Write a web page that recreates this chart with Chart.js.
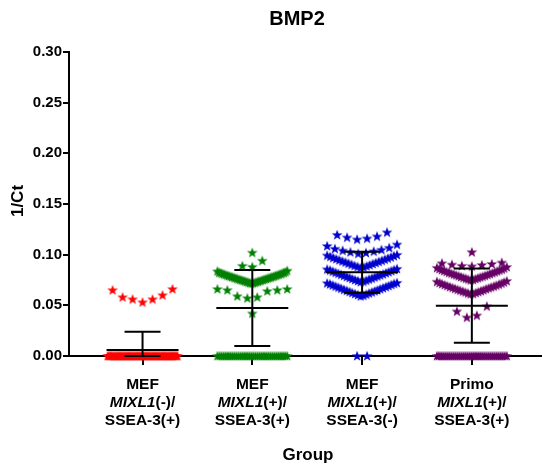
<!DOCTYPE html>
<html>
<head>
<meta charset="UTF-8" />
<title>BMP2</title>
<style>
  body { margin: 0; background: #fff; }
  canvas#chartId { display: block; }
</style>
</head>
<body>
<canvas id="chartId" width="542" height="468"></canvas>
<script src="https://cdn.jsdelivr.net/npm/chart.js@4"></script>
<script>
// ---- data (1/Ct per sample) ----
const catTop = ['MEF', 'MEF', 'MEF', 'Primo'];
const catGene = ['MIXL1', 'MIXL1', 'MIXL1', 'MIXL1'];
const catState = ['(-)/', '(+)/', '(+)/', '(+)/'];
const catBottom = ['SSEA-3(+)', 'SSEA-3(+)', 'SSEA-3(-)', 'SSEA-3(+)'];
const colors = ['#ff0000', '#008000', '#0000cc', '#660066'];

// samples sitting at 0 (no signal), per group
const zeroCounts = [63, 34, 2, 35];

const mefNegPos = [0.053, 0.056, 0.056, 0.058, 0.060, 0.065, 0.066];

const mefPosPos = [0.042,
  0.057, 0.058, 0.059, 0.064, 0.065, 0.065, 0.066, 0.066,
  0.0716, 0.0719, 0.0721, 0.0724, 0.0726, 0.0729, 0.0731, 0.0734, 0.0737, 0.0739, 0.0742,
  0.0744, 0.0747, 0.0750, 0.0752, 0.0755, 0.0757, 0.0760, 0.0763, 0.0766, 0.0768, 0.0771,
  0.0774, 0.0776, 0.0779, 0.0782, 0.0784, 0.0787, 0.0790, 0.0793, 0.0795, 0.0798, 0.0801,
  0.0804, 0.0807, 0.0809, 0.0812, 0.0815, 0.0818, 0.0821, 0.0824, 0.0828, 0.0836, 0.0842,
  0.088, 0.089, 0.094, 0.102];

const mefPosNeg = [
  0.0590, 0.0596, 0.0603, 0.0608, 0.0613, 0.0619, 0.0623, 0.0629, 0.0634, 0.0640, 0.0645, 0.0650, 0.0655,
  0.0661, 0.0666, 0.0671, 0.0676, 0.0682, 0.0687, 0.0692, 0.0698, 0.0703, 0.0709, 0.0714, 0.0718, 0.0722,
  0.0730, 0.0735, 0.0741, 0.0745, 0.0750, 0.0756, 0.0760, 0.0765, 0.0771, 0.0776, 0.0781, 0.0786, 0.0792,
  0.0797, 0.0802, 0.0807, 0.0813, 0.0818, 0.0823, 0.0828, 0.0834, 0.0839, 0.0845, 0.0850, 0.0855, 0.0860,
  0.0870, 0.0875, 0.0881, 0.0886, 0.0891, 0.0897, 0.0902, 0.0908, 0.0913, 0.0919, 0.0924, 0.0930,
  0.0935, 0.0941, 0.0946, 0.0952, 0.0957, 0.0963, 0.0968, 0.0974, 0.0980, 0.0986, 0.0992, 0.0998,
  0.1010, 0.1018, 0.1025, 0.1032, 0.1040, 0.1048, 0.1058, 0.1068, 0.1085, 0.1100,
  0.1150, 0.1160, 0.1170, 0.1180, 0.1195, 0.1220];

const primoPosPos = [0.038, 0.040, 0.044, 0.049,
  0.0610, 0.0614, 0.0619, 0.0623, 0.0628, 0.0632, 0.0637, 0.0641, 0.0646, 0.0650, 0.0655, 0.0660, 0.0664, 0.0669,
  0.0673, 0.0678, 0.0682, 0.0687, 0.0692, 0.0696, 0.0701, 0.0706, 0.0711, 0.0716, 0.0721, 0.0727, 0.0733, 0.0740,
  0.0748, 0.0752, 0.0756, 0.0760, 0.0764, 0.0768, 0.0772, 0.0776, 0.0780, 0.0784, 0.0788, 0.0792, 0.0797, 0.0801, 0.0805,
  0.0809, 0.0814, 0.0818, 0.0822, 0.0827, 0.0831, 0.0836, 0.0840, 0.0845, 0.0849, 0.0854, 0.0859, 0.0864, 0.0870, 0.0878,
  0.0885, 0.0890, 0.0898, 0.0902, 0.0908, 0.0915, 0.0922,
  0.1025];

const yTicks = [0, 0.05, 0.10, 0.15, 0.20, 0.25, 0.30];

const groups = [mefNegPos, mefPosPos, mefPosNeg, primoPosPos].map(function (vals, i) {
  return new Array(zeroCounts[i]).fill(0).concat(vals);
});

// ---- column scatter layout (rows of close values, spread out from the centre) ----
const STEP = 10 / 110;    // x units between neighbouring stars
const MAX_W = 70 / 110;   // widest a row may get
const ROW_H = 0.0135;     // values closer than this share a row

function spread(values, center) {
  var sorted = values.slice().sort(function (a, b) { return a - b; });
  var pts = [];
  var i = 0;
  while (i < sorted.length) {
    var start = sorted[i];
    var row = [];
    while (i < sorted.length && sorted[i] < start + ROW_H) row.push(sorted[i++]);
    var n = row.length;
    var step = n > 1 ? Math.min(STEP, MAX_W / (n - 1)) : 0;
    var slots = [];
    for (var j = 0; j < n; j++) slots.push((j - (n - 1) / 2) * step);
    slots.sort(function (a, b) { return Math.abs(a) - Math.abs(b) || a - b; });
    row.forEach(function (v, k) { pts.push({ x: center + slots[k], y: v }); });
  }
  return pts;
}

function makeStar(color) {
  var c = document.createElement('canvas');
  c.width = 12; c.height = 12;
  var g = c.getContext('2d');
  g.fillStyle = color;
  g.beginPath();
  for (var k = 0; k < 10; k++) {
    var r = k % 2 ? 2.3 : 5.6;
    var a = -Math.PI / 2 + k * Math.PI / 5;
    g.lineTo(6 + r * Math.cos(a), 6.3 + r * Math.sin(a));
  }
  g.closePath();
  g.fill();
  return c;
}

function stats(vals) {
  var n = vals.length;
  var m = vals.reduce(function (s, v) { return s + v; }, 0) / n;
  var ss = vals.reduce(function (s, v) { return s + (v - m) * (v - m); }, 0);
  return { mean: m, sd: Math.sqrt(ss / (n - 1)) };
}

const FONT = 'Arial, "Liberation Sans", sans-serif';

const annotate = {
  id: 'annotate',
  afterDatasetsDraw: function (chart) {
    var ctx = chart.ctx, x = chart.scales.x, y = chart.scales.y;
    ctx.save();
    ctx.strokeStyle = '#000';
    ctx.lineWidth = 2;
    function seg(x1, y1, x2, y2) { ctx.beginPath(); ctx.moveTo(x1, y1); ctx.lineTo(x2, y2); ctx.stroke(); }
    groups.forEach(function (vals, i) {
      var st = stats(vals);
      var cx = x.getPixelForValue(i + 1);
      var ym = y.getPixelForValue(st.mean);
      var yu = y.getPixelForValue(st.mean + st.sd);
      var yl = y.getPixelForValue(Math.max(0, st.mean - st.sd));
      seg(cx, yu, cx, yl);
      seg(cx - 18, yu, cx + 18, yu);
      seg(cx - 18, yl, cx + 18, yl);
      seg(cx - 36, ym, cx + 36, ym);
    });
    ctx.restore();
  },
  afterDraw: function (chart) {
    var ctx = chart.ctx, x = chart.scales.x;
    ctx.save();
    ctx.fillStyle = '#000';
    ctx.textBaseline = 'alphabetic';

    ctx.textAlign = 'center';
    ctx.font = 'bold 20px ' + FONT;
    ctx.fillText('BMP2', 297, 25);

    ctx.font = 'bold 17px ' + FONT;
    ctx.fillText('Group', 308, 460);

    ctx.save();
    ctx.translate(23, 201);
    ctx.rotate(-Math.PI / 2);
    ctx.fillText('1/Ct', 0, 0);
    ctx.restore();

    var bold = 'bold 15.5px ' + FONT, boldIt = 'italic bold 15.5px ' + FONT;
    catTop.forEach(function (t, i) {
      var cx = x.getPixelForValue(i + 1);
      ctx.textAlign = 'center';
      ctx.font = bold;
      ctx.fillText(t, cx, 388.5);
      ctx.fillText(catBottom[i], cx, 425);
      ctx.textAlign = 'left';
      ctx.font = boldIt;
      var w1 = ctx.measureText(catGene[i]).width;
      ctx.font = bold;
      var w2 = ctx.measureText(catState[i]).width;
      var sx = cx - (w1 + w2) / 2;
      ctx.font = boldIt;
      ctx.fillText(catGene[i], sx, 406.5);
      ctx.font = bold;
      ctx.fillText(catState[i], sx + w1, 406.5);
    });
    ctx.restore();
  }
};

var chrt = document.getElementById('chartId').getContext('2d');
var chartId = new Chart(chrt, {
  type: 'scatter',
  data: {
    datasets: groups.map(function (vals, i) {
      return {
        label: catTop[i] + ' ' + catGene[i] + catState[i] + catBottom[i],
        data: spread(vals, i + 1),
        pointStyle: makeStar(colors[i]),
        pointRadius: 5,
        clip: false
      };
    })
  },
  options: {
    responsive: false,
    animation: false,
    devicePixelRatio: 1,
    layout: { autoPadding: false, padding: { top: 52, right: 1, left: 0, bottom: 0 } },
    plugins: { legend: { display: false }, tooltip: { enabled: false }, title: { display: false } },
    scales: {
      x: {
        type: 'linear',
        min: 0.33,
        max: 4.63,
        afterBuildTicks: function (scale) { scale.ticks = [1, 2, 3, 4].map(function (v) { return { value: v }; }); },
        afterFit: function (scale) { scale.height = 112; },
        ticks: { callback: function () { return ''; } },
        grid: { drawOnChartArea: false, tickLength: 9, lineWidth: 2, color: '#000' },
        border: { display: true, color: '#000', width: 2 }
      },
      y: {
        min: 0,
        max: 0.3,
        afterBuildTicks: function (scale) { scale.ticks = yTicks.map(function (v) { return { value: v }; }); },
        afterFit: function (scale) { scale.width = 69; },
        ticks: {
          padding: 1,
          color: '#000',
          font: { family: FONT, size: 15, weight: 'bold' },
          callback: function (v) { return v.toFixed(2); }
        },
        grid: { drawOnChartArea: false, tickLength: 6, lineWidth: 2, color: '#000' },
        border: { display: true, color: '#000', width: 2 }
      }
    }
  },
  plugins: [annotate]
});
</script>
</body>
</html>
